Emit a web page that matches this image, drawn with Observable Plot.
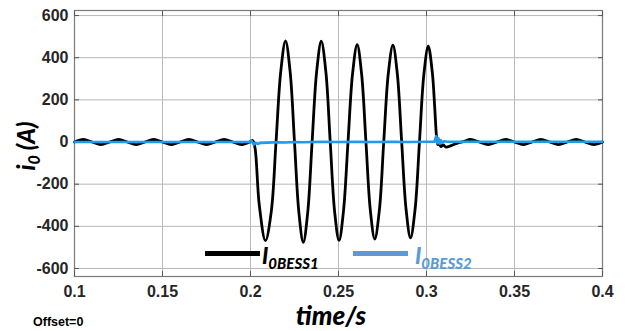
<!DOCTYPE html>
<html>
<head>
<meta charset="utf-8">
<script src="https://cdn.jsdelivr.net/npm/d3@7"></script>
<script src="https://cdn.jsdelivr.net/npm/@observablehq/plot@0.6"></script>
<style>
  html, body { margin: 0; padding: 0; background: #fff; }
  #wrap { position: relative; width: 641px; height: 331px; overflow: hidden; }
  .lbl { position: absolute; font-family: Lato, "Open Sans", sans-serif; font-weight: 900; font-style: italic; white-space: nowrap; line-height: 1; }
  .bar { position: absolute; height: 5px; }
</style>
</head>
<body>
<div id="wrap"></div>
<script>
// ---- tick labels ----
const xTicks = [0.1, 0.15, 0.2, 0.25, 0.3, 0.35, 0.4];
const yTicks = [-600, -400, -200, 0, 200, 400, 600];

// ---- series names ----
const seriesNames = ["I0BESS1", "I0BESS2"];

// ---- I0BESS1 (black) : time (s) and current (A) ----
const t1 = [
  0.100, 0.105, 0.110, 0.115, 0.120, 0.125, 0.130, 0.135, 0.140, 0.145,
  0.150, 0.155, 0.160, 0.165, 0.170, 0.175, 0.180, 0.185, 0.190, 0.195,
  0.2000, 0.2012, 0.2025, 0.2050, 0.2085, 0.2118, 0.2145, 0.2172, 0.2199, 0.2225,
  0.2250, 0.2275, 0.2300, 0.2325, 0.2350, 0.2376, 0.2402, 0.2428, 0.2453, 0.2478,
  0.2503, 0.2528, 0.2554, 0.2580, 0.2606, 0.2631, 0.2656, 0.2681, 0.2706, 0.2732,
  0.2757, 0.2783, 0.2809, 0.2834, 0.2859, 0.2884, 0.2909, 0.2935, 0.2960, 0.2985,
  0.3010, 0.3033, 0.3047, 0.3057, 0.3064, 0.3072, 0.3082, 0.3095, 0.3110, 0.3140,
  0.3180, 0.3210, 0.3250, 0.3300, 0.3350, 0.3400, 0.3450, 0.3500, 0.3550, 0.3600,
  0.3650, 0.3700, 0.3750, 0.3800, 0.3850, 0.3900, 0.3950, 0.4000
];
const v1 = [
  0, 12, 0, -12, 0, 12, 0, -12, 0, 12,
  0, -12, 0, 12, 0, -12, 0, 12, 0, -12,
  2, 7, -25, -300, -468, -330, 0, 335, 480, 335,
  0, -335, -476, -335, 0, 335, 478, 335, 0, -330,
  -467, -330, 0, 325, 462, 325, 0, -325, -460, -325,
  0, 325, 460, 325, 0, -320, -455, -320, 0, 320,
  455, 330, 160, 25, -12, -6, -22, -14, -24, -17,
  -4, 2, 12, 0, -12, 0, 12, 0, -12, 0,
  12, 0, -12, 0, 12, 0, -12, 0
];

// ---- I0BESS2 (blue) : time (s) and current (A) ----
const t2 = [
  0.100, 0.150, 0.1995, 0.2005, 0.2018, 0.2028, 0.2040, 0.2060, 0.2100, 0.2150,
  0.2200, 0.2250, 0.2300, 0.2400, 0.2500, 0.2600, 0.2700, 0.2800, 0.2900, 0.3000,
  0.3045, 0.3055, 0.3062, 0.3068, 0.3075, 0.3082, 0.3090, 0.3100, 0.3120, 0.3200,
  0.3500, 0.4000
];
const v2 = [
  0, 0, 0, 7, -12, -4, -9, -4, -3, -1,
  -2, 0, -1, 1, 0, 1, 0, 1, 0, 1,
  2, 28, -6, 18, -8, 8, -3, 4, 1, 1,
  1, 1
];

const data1 = t1.map((t, i) => ({t, v: v1[i]}));
const data2 = t2.map((t, i) => ({t, v: v2[i]}));

const tickFont = {fontFamily: "'Liberation Sans', Arial, sans-serif", fontWeight: "bold", fontSize: 16, fill: "#262626"};

const plot = Plot.plot({
  width: 641,
  height: 331,
  marginLeft: 74,
  marginRight: 39,
  marginTop: 10,
  marginBottom: 55,
  style: {background: "#fff", overflow: "visible"},
  x: {domain: [0.1, 0.4]},
  y: {domain: [-638, 624]},
  marks: [
    Plot.gridX(xTicks, {stroke: "#b8b8b8", strokeOpacity: 1, strokeWidth: 1}),
    Plot.gridY(yTicks, {stroke: "#b8b8b8", strokeOpacity: 1, strokeWidth: 1}),
    Plot.frame({stroke: "#7a7a7a", strokeWidth: 1.2}),
    Plot.axisX(xTicks, {anchor: "bottom", tickSize: -5, stroke: "#555", tickFormat: () => "", label: null}),
    Plot.axisX(xTicks, {anchor: "top", tickSize: -5, stroke: "#555", tickFormat: () => "", label: null}),
    Plot.axisY(yTicks, {anchor: "left", tickSize: -5, stroke: "#555", tickFormat: () => "", label: null}),
    Plot.axisY(yTicks, {anchor: "right", tickSize: -5, stroke: "#555", tickFormat: () => "", label: null}),
    Plot.axisX(xTicks, {anchor: "bottom", tickSize: 0, tickPadding: 9, tickFormat: d => String(d), label: null, ...tickFont}),
    Plot.axisY(yTicks, {anchor: "left", tickSize: 0, tickPadding: 6, tickFormat: d => String(d), label: null, ...tickFont}),
    Plot.line(data1, {x: "t", y: "v", stroke: "#000", strokeWidth: 2.8, curve: "catmull-rom"}),
    Plot.line(data2, {x: "t", y: "v", stroke: "#1e9bf0", strokeWidth: 2.6, curve: "linear"})
  ]
});

const wrap = document.getElementById("wrap");
wrap.appendChild(plot);

function add(html, style, cls) {
  const d = document.createElement("div");
  d.className = cls || "lbl";
  d.innerHTML = html;
  Object.assign(d.style, style);
  wrap.appendChild(d);
  return d;
}

// legend
add("", {left: "205px", top: "251px", width: "55px", background: "#000"}, "bar");
add("I<span style='font-size:15px;position:relative;top:5px;'>0BESS1</span>", {left: "262px", top: "245px", fontSize: "22px", color: "#000"});
add("", {left: "353px", top: "251px", width: "55px", background: "#5b9bd5"}, "bar");
add("I<span style='font-size:15px;position:relative;top:5px;'>0BESS2</span>", {left: "415px", top: "245px", fontSize: "22px", color: "#5b9bd5"});

// x label
add("time/s", {left: "331px", top: "302px", fontSize: "26px", color: "#000", transform: "translateX(-50%)"});

// y label
add("i<span style='font-size:16px;position:relative;top:5px;'>0</span> (A)", {left: "26px", top: "146px", fontSize: "24px", color: "#000", transform: "translate(-50%,-50%) rotate(-90deg)"});

// offset note
add("Offset=0", {left: "33px", top: "316px", fontSize: "12.5px", color: "#000", fontFamily: "'Liberation Sans', Arial, sans-serif", fontWeight: "bold", fontStyle: "normal"});
</script>
</body>
</html>
